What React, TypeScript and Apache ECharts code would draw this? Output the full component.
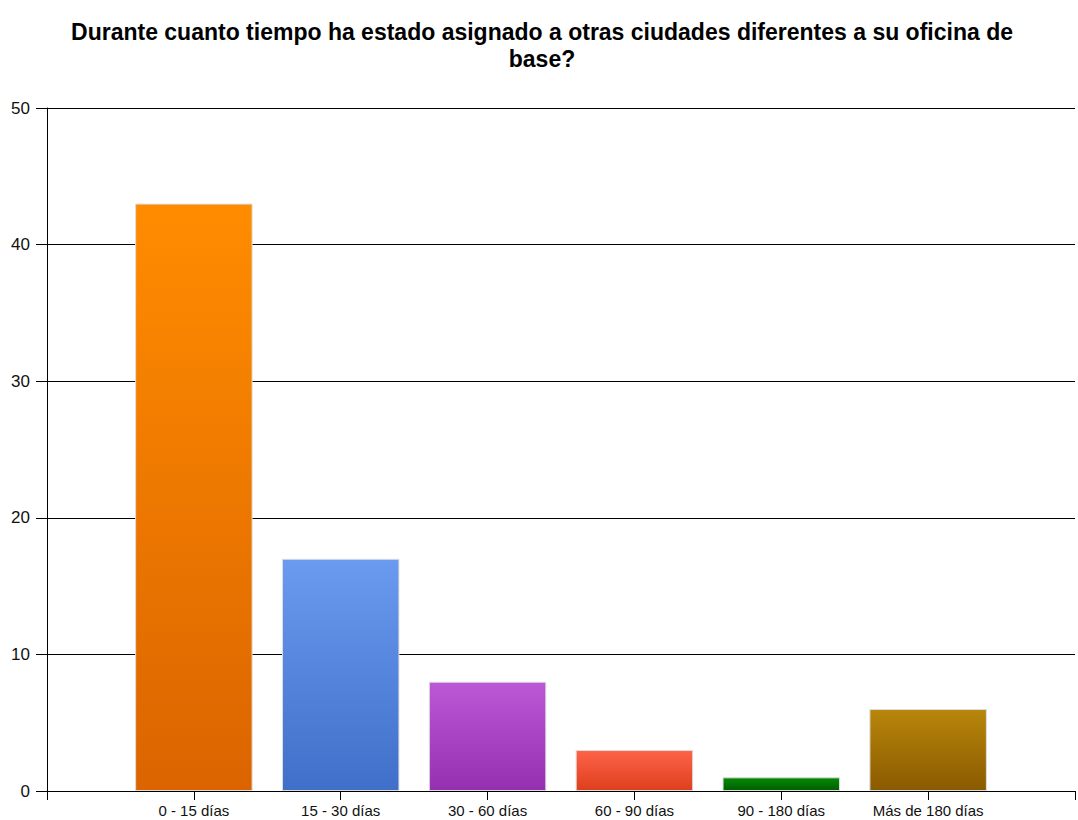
import React, { useEffect, useRef } from "react";
import * as echarts from "echarts";

const titleText =
  "Durante cuanto tiempo ha estado asignado a otras ciudades diferentes a su oficina de\nbase?";
const categories = [
  "0 - 15 días",
  "15 - 30 días",
  "30 - 60 días",
  "60 - 90 días",
  "90 - 180 días",
  "Más de 180 días",
];
const values = [43, 17, 8, 3, 1, 6];
const barColors = [
  ["#FF8C00", "#DC6400"],
  ["#6A9BF0", "#3F6FC8"],
  ["#BC58D6", "#9530B0"],
  ["#FF6347", "#DD3F1E"],
  ["#058A05", "#005F00"],
  ["#B8860B", "#8A5A00"],
];
const yTicks = { min: 0, max: 50, interval: 10 };

export default function App() {
  const ref = useRef<HTMLDivElement>(null);
  useEffect(() => {
    document.body.style.margin = "0";
    const chart = echarts.init(ref.current!, null, { renderer: "svg" });
    const axisData = ["", ...categories, ""];
    const seriesData: any[] = [
      null,
      ...values.map((v, i) => ({
        value: v,
        itemStyle: {
          color: new echarts.graphic.LinearGradient(0, 0, 0, 1, [
            { offset: 0, color: barColors[i][0] },
            { offset: 1, color: barColors[i][1] },
          ]),
        },
      })),
      null,
    ];
    chart.setOption({
      animation: false,
      backgroundColor: "#ffffff",
      title: {
        text: titleText,
        left: 537,
        textAlign: "center",
        top: 13,
        textStyle: {
          fontFamily: "Liberation Sans",
          fontSize: 23,
          fontWeight: "bold",
          color: "#000",
          lineHeight: 27,
        },
      },
      grid: { left: 47, right: 0, top: 108, bottom: 29, containLabel: false },
      xAxis: {
        type: "category",
        data: axisData,
        boundaryGap: false,
        axisLine: { show: true, lineStyle: { color: "#000", width: 1 } },
        axisTick: {
          show: true,
          length: 9,
          interval: 0,
          lineStyle: { color: "#000", width: 1 },
        },
        axisLabel: {
          interval: 0,
          margin: 12,
          fontFamily: "Liberation Sans",
          fontSize: 15,
          color: "#111",
        },
        splitLine: { show: false },
      },
      yAxis: {
        type: "value",
        min: yTicks.min,
        max: yTicks.max,
        interval: yTicks.interval,
        axisLine: { show: true, lineStyle: { color: "#000", width: 1 } },
        axisTick: { show: true, length: 11, lineStyle: { color: "#000", width: 1 } },
        axisLabel: {
          margin: 17,
          fontFamily: "Liberation Sans",
          fontSize: 17,
          color: "#111",
        },
        splitLine: { show: true, lineStyle: { color: "#000", width: 1 } },
      },
      series: [
        {
          type: "bar",
          data: seriesData,
          barWidth: "80%",
          itemStyle: { borderColor: "#dddddd", borderWidth: 1 },
        },
      ],
    });
    return () => chart.dispose();
  }, []);
  return <div ref={ref} style={{ width: 1078, height: 820 }} />;
}
